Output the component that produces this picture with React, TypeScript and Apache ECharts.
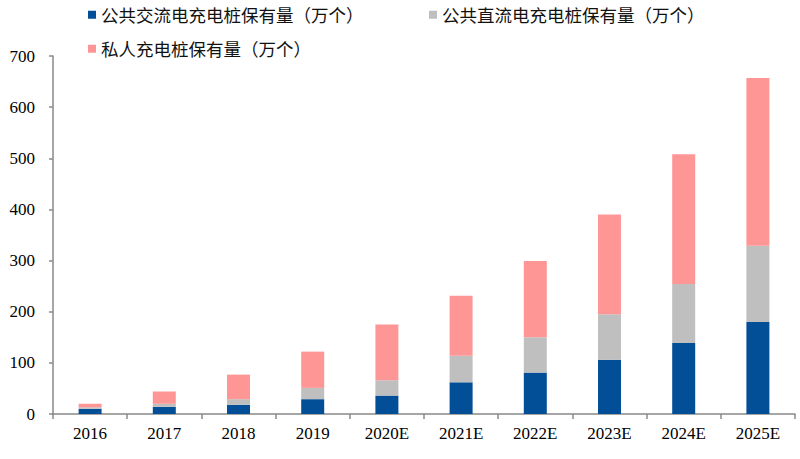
import React, { useEffect, useRef } from "react";
import * as echarts from "echarts";

const categories = ["2016", "2017", "2018", "2019", "2020E", "2021E", "2022E", "2023E", "2024E", "2025E"];
const publicAC = [10, 14, 18, 29, 36, 62, 81, 106, 139, 180];
const publicDC = [3, 6, 11, 22, 30, 52, 69, 89, 115, 149];
const privatePiles = [7, 24, 48, 71, 109, 117, 149, 195, 254, 328];
const seriesNames = ["公共交流电充电桩保有量（万个）", "公共直流电充电桩保有量（万个）", "私人充电桩保有量（万个）"];

const COLORS = ["#034F97", "#BFBFBF", "#FF9696"];
const AXIS_COLOR = "#898989";

export default function App() {
  const ref = useRef<HTMLDivElement>(null);
  useEffect(() => {
    if (!ref.current) return;
    const chart = echarts.init(ref.current, null, { renderer: "svg" });
    const legendText = { fontSize: 17.5, color: "#111", fontFamily: "Noto Sans CJK SC" };
    const mkLegend = (name: string, left: number, top: number) => ({
      data: [name],
      left,
      top,
      padding: 0,
      icon: "rect",
      itemWidth: 8,
      itemHeight: 8,
      itemGap: 5,
      selectedMode: false,
      textStyle: legendText,
    });
    chart.setOption({
      animation: false,
      legend: [
        mkLegend(seriesNames[0], 88, 6),
        mkLegend(seriesNames[1], 429, 6),
        mkLegend(seriesNames[2], 88, 40),
      ],
      grid: { left: 53, right: 5, top: 56, bottom: 45, containLabel: false },
      xAxis: {
        type: "category",
        data: categories,
        axisLine: { lineStyle: { color: AXIS_COLOR, width: 1.5 } },
        axisTick: { show: true, length: 5, alignWithLabel: false, lineStyle: { color: AXIS_COLOR, width: 1.5 } },
        axisLabel: { fontSize: 17, color: "#000", fontFamily: "Liberation Serif", margin: 11 },
      },
      yAxis: {
        type: "value",
        min: 0,
        max: 700,
        interval: 100,
        splitLine: { show: false },
        axisLine: { show: true, lineStyle: { color: AXIS_COLOR, width: 1.5 } },
        axisTick: { show: true, length: 4, lineStyle: { color: AXIS_COLOR, width: 1.5 } },
        axisLabel: { fontSize: 17, color: "#000", fontFamily: "Liberation Serif", margin: 18 },
      },
      series: [
        { name: seriesNames[0], type: "bar", stack: "total", data: publicAC, barWidth: 23, itemStyle: { color: COLORS[0] } },
        { name: seriesNames[1], type: "bar", stack: "total", data: publicDC, barWidth: 23, itemStyle: { color: COLORS[1] } },
        { name: seriesNames[2], type: "bar", stack: "total", data: privatePiles, barWidth: 23, itemStyle: { color: COLORS[2] } },
      ],
    });
    return () => chart.dispose();
  }, []);
  return <div ref={ref} style={{ width: 800, height: 459, position: "fixed", left: 0, top: 0, background: "#fff" }} />;
}
